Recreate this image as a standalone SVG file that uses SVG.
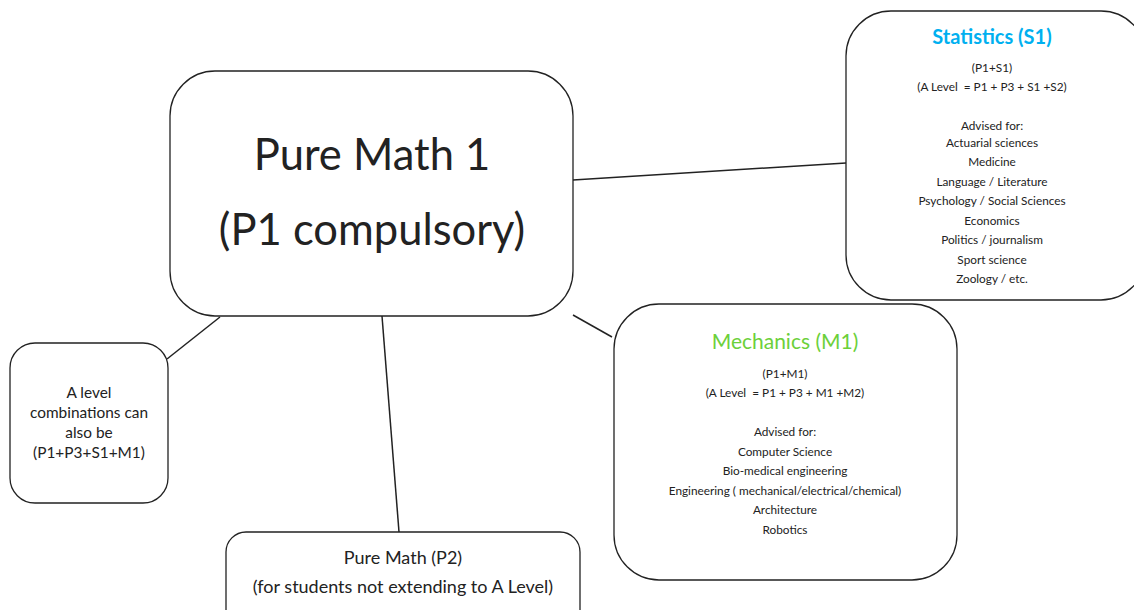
<svg xmlns="http://www.w3.org/2000/svg" width="1134" height="610" viewBox="0 0 1134 610">
<style>
.box{fill:#fff;stroke:#222;stroke-width:1.3}
.con line{stroke:#222;stroke-width:1.5}
text{font-family:Lato,"Open Sans",sans-serif;fill:#222;text-anchor:middle;white-space:pre}
.sm{font-size:11.8px}
</style>
<rect width="1134" height="610" fill="#fff"/>
<g class="con">
<line x1="573" y1="180" x2="846" y2="163"/>
<line x1="220" y1="317" x2="167" y2="359"/>
<line x1="382" y1="316" x2="399" y2="532"/>
<line x1="573" y1="315" x2="612" y2="337"/>
</g>
<g id="main">
<rect class="box" x="170" y="71" width="403" height="245" rx="45"/>
<text x="372" y="170" font-size="43.5">Pure Math 1</text>
<text x="372" y="245" font-size="43.5">(P1 compulsory)</text>
</g>
<g id="stats">
<rect class="box" x="846" y="11" width="300" height="289" rx="45"/>
<text x="992" y="44" font-size="20" font-weight="bold" style="fill:#00B0F0">Statistics (S1)</text>
<text class="sm" x="992" y="72">(P1+S1)</text>
<text class="sm" x="992" y="91">(A Level  = P1 + P3 + S1 +S2)</text>
<text class="sm" x="992" y="130">Advised for:</text>
<text class="sm" x="992" y="147">Actuarial sciences</text>
<text class="sm" x="992" y="166">Medicine</text>
<text class="sm" x="992" y="186">Language / Literature</text>
<text class="sm" x="992" y="205">Psychology / Social Sciences</text>
<text class="sm" x="992" y="225">Economics</text>
<text class="sm" x="992" y="244">Politics / journalism</text>
<text class="sm" x="992" y="264">Sport science</text>
<text class="sm" x="992" y="283">Zoology / etc.</text>
</g>
<g id="mech">
<rect class="box" x="614" y="304" width="343" height="276" rx="45"/>
<text x="785" y="349" font-size="21" style="fill:#6CD03A">Mechanics (M1)</text>
<text class="sm" x="785" y="378">(P1+M1)</text>
<text class="sm" x="785" y="397">(A Level  = P1 + P3 + M1 +M2)</text>
<text class="sm" x="785" y="436">Advised for:</text>
<text class="sm" x="785" y="456">Computer Science</text>
<text class="sm" x="785" y="475">Bio-medical engineering</text>
<text class="sm" x="785" y="495">Engineering ( mechanical/electrical/chemical)</text>
<text class="sm" x="785" y="514">Architecture</text>
<text class="sm" x="785" y="534">Robotics</text>
</g>
<g id="alevel">
<rect class="box" x="10" y="343" width="158" height="160" rx="25"/>
<text x="89" y="398" font-size="15.4">A level</text>
<text x="89" y="418" font-size="15.4">combinations can</text>
<text x="89" y="438" font-size="15.4">also be</text>
<text x="89" y="458" font-size="15.4">(P1+P3+S1+M1)</text>
</g>
<g id="p2">
<rect class="box" x="226" y="532" width="354" height="100" rx="20"/>
<text x="403" y="564" font-size="18">Pure Math (P2)</text>
<text x="403" y="593" font-size="18">(for students not extending to A Level)</text>
</g>
</svg>
